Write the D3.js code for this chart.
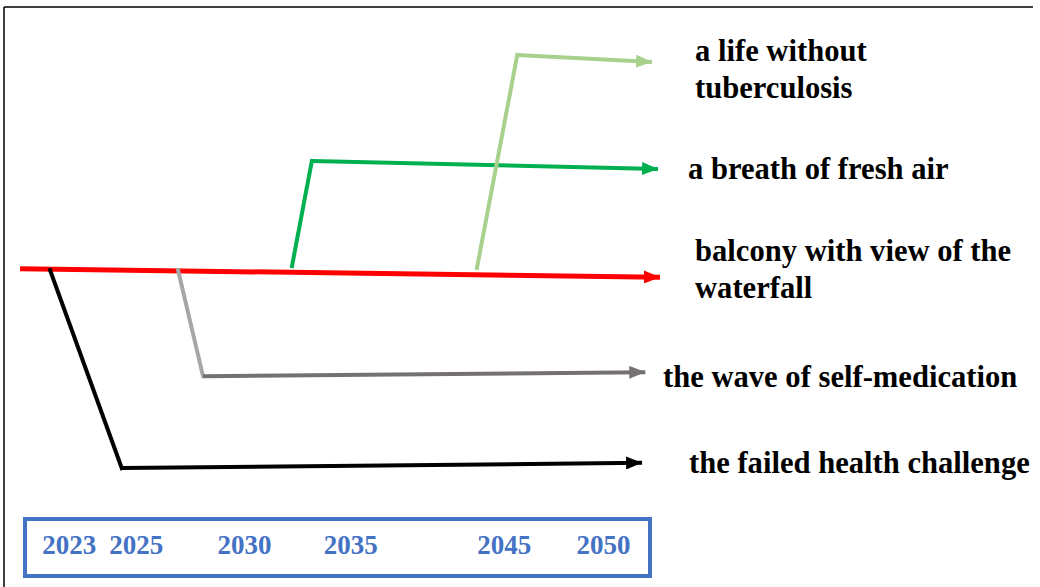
<!DOCTYPE html>
<html>
<head>
<meta charset="utf-8">
<script src="https://cdn.jsdelivr.net/npm/d3@7"></script>
<style>
  html, body { margin: 0; padding: 0; background: #fff; }
  svg { display: block; }
</style>
</head>
<body>
<svg id="chart" width="1040" height="587"></svg>
<script>
// ---- data (abstract timeline units: position 0-100 along the time line, level 0-100 vertically) ----
const scenarios = [
  "a life without tuberculosis",
  "a breath of fresh air",
  "balcony with view of the waterfall",
  "the wave of self-medication",
  "the failed health challenge"
];
const labelLines = [
  ["a life without", "tuberculosis"],
  ["a breath of fresh air"],
  ["balcony with view of the", "waterfall"],
  ["the wave of self-medication"],
  ["the failed health challenge"]
];
const startPos    = [71.4, 42.5, 0,    24.7, 4.7];
const startLevel  = [48.2, 48.6, 48.0, 47.7, 47.7];
const cornerPos   = [77.7, 45.6, null, 28.6, 15.9];
const cornerLevel = [96.6, 72.5, null, 23.6, 2.7];
const endPos      = [98.75, 99.7, 100, 97.7, 97.2];
const endLevel    = [95.0, 70.7, 46.1, 24.5, 3.9];
const yearLabels  = ["2023", "2025", "2030", "2035", "2045", "2050"];
const yearPos     = [7.6, 18.1, 35.0, 51.6, 75.6, 91.1];

// ---- styles ----
const FONT = "'Liberation Serif', 'Times New Roman', serif";
const branchColor = ["#a9d18e", "#00b050", "#ff0000", "#a6a6a6", "#000000"];
const trunkColor  = ["#a9d18e", "#00b050", "#ff0000", "#767171", "#000000"];
const lineWidth   = [4, 4, 5, 4, 4];
const labelX      = [695, 688, 695, 663, 689];
const labelY      = [61, 179, 261, 387, 473];
const lineGap     = 37;

const svg = d3.select("#chart");
const x = d3.scaleLinear().domain([0, 100]).range([20, 660]);
const y = d3.scaleLinear().domain([0, 100]).range([480, 40]);

// outer frame (top and left edges)
svg.append("line").attr("x1", 4).attr("y1", 7).attr("x2", 1033).attr("y2", 7)
  .attr("stroke", "#000").attr("stroke-width", 1.5);
svg.append("line").attr("x1", 4).attr("y1", 7).attr("x2", 4).attr("y2", 587)
  .attr("stroke", "#000").attr("stroke-width", 1.5);

// arrow markers
const defs = svg.append("defs");
trunkColor.forEach((c, i) => {
  defs.append("marker")
    .attr("id", "arrow" + i)
    .attr("viewBox", "0 0 16 13")
    .attr("refX", 16).attr("refY", 6.5)
    .attr("markerWidth", 16).attr("markerHeight", 13)
    .attr("markerUnits", "userSpaceOnUse")
    .attr("orient", "auto")
    .append("path").attr("d", "M0,0 L16,6.5 L0,13 Z").attr("fill", c);
});

const line = d3.line().x(d => x(d[0])).y(d => y(d[1]));

// draw main (red) line first, then branches
const order = [2, 4, 3, 1, 0];
order.forEach(i => {
  if (cornerPos[i] === null) {
    svg.append("path")
      .attr("d", line([[startPos[i], startLevel[i]], [endPos[i], endLevel[i]]]))
      .attr("fill", "none").attr("stroke", trunkColor[i])
      .attr("stroke-width", lineWidth[i])
      .attr("marker-end", `url(#arrow${i})`);
  } else {
    svg.append("path")
      .attr("d", line([[startPos[i], startLevel[i]], [cornerPos[i], cornerLevel[i]]]))
      .attr("fill", "none").attr("stroke", branchColor[i])
      .attr("stroke-width", lineWidth[i]).attr("stroke-linecap", "square");
    svg.append("path")
      .attr("d", line([[cornerPos[i], cornerLevel[i]], [endPos[i], endLevel[i]]]))
      .attr("fill", "none").attr("stroke", trunkColor[i])
      .attr("stroke-width", lineWidth[i])
      .attr("marker-end", `url(#arrow${i})`);
  }
});

// scenario labels
labelLines.forEach((lines, i) => {
  const t = svg.append("text")
    .attr("x", labelX[i]).attr("y", labelY[i])
    .style("font-family", FONT).style("font-weight", "bold")
    .style("font-size", "30.6px").attr("fill", "#000");
  lines.forEach((s, k) => {
    t.append("tspan").attr("x", labelX[i]).attr("dy", k === 0 ? 0 : lineGap).text(s);
  });
});

// time box
svg.append("rect")
  .attr("x", 25).attr("y", 519).attr("width", 625).attr("height", 57)
  .attr("fill", "none").attr("stroke", "#4472c4").attr("stroke-width", 4);

const axis = d3.axisBottom(x)
  .tickValues(yearPos)
  .tickFormat((d, i) => yearLabels[i])
  .tickSize(0).tickPadding(0);
const g = svg.append("g").attr("transform", "translate(0,554)").call(axis);
g.select(".domain").remove();
g.selectAll("text")
  .attr("fill", "#4472c4")
  .attr("dy", 0)
  .style("font-family", FONT)
  .style("font-weight", "bold")
  .style("font-size", "27px");
</script>
</body>
</html>
